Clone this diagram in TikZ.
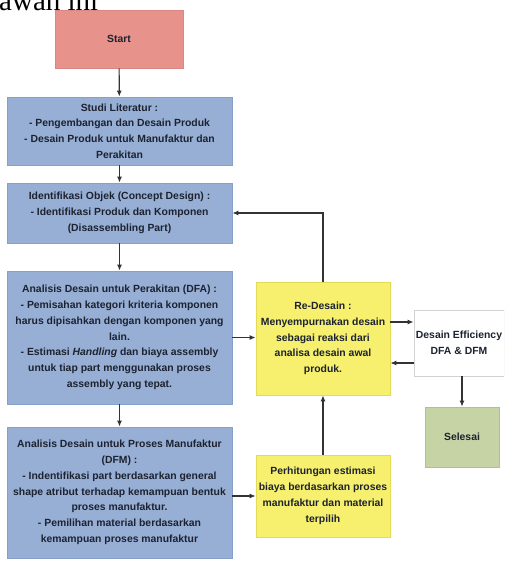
\documentclass[tikz,border=0pt]{standalone}
\usepackage{fontspec}
\setmainfont{Liberation Sans}
\newfontfamily\seriffont{Liberation Serif}
\usetikzlibrary{arrows.meta,calc}
\definecolor{startc}{HTML}{E8928C}
\definecolor{startb}{HTML}{D98780}
\definecolor{bluec}{HTML}{97AFD5}
\definecolor{blueb}{HTML}{85A0CB}
\definecolor{yelc}{HTML}{F6F06E}
\definecolor{yelb}{HTML}{E3DB55}
\definecolor{grnc}{HTML}{C5D3A5}
\definecolor{grnb}{HTML}{B0C08E}
\definecolor{effb}{HTML}{D2D2D2}
\definecolor{txt}{HTML}{1C2230}
\definecolor{linec}{HTML}{333333}
\begin{document}
\begin{tikzpicture}[x=1pt,y=-1pt,
  box/.style={draw, line width=0.8pt, align=center, inner sep=2pt,
    font=\fontsize{10.4}{15.8}\selectfont\bfseries, text=txt},
  bluebox/.style={box, fill=bluec, draw=blueb, minimum width=225pt},
  yelbox/.style={box, fill=yelc, draw=yelb, minimum width=134pt},
  arr/.style={draw=linec, line width=1.1pt, -{Latex[length=6pt,width=5pt]}}]
\useasboundingbox (0,0) rectangle (504,561);
\clip (0,0) rectangle (504,561);
\fill[white] (0,0) rectangle (504,561);

\node[font=\fontsize{29}{29}\selectfont\seriffont, anchor=base west, inner sep=0pt] (toptext) at (-1,11) {awah ini};

\node[box, fill=startc, draw=startb, minimum width=128pt, minimum height=58pt] (start) at (119,39) {Start};

\node[bluebox, minimum height=68pt] (studi) at (119.5,131)
 {Studi Literatur :\\- Pengembangan dan Desain Produk\\- Desain Produk untuk Manufaktur dan\\Perakitan};

\node[bluebox, minimum height=60pt] (ident) at (119.5,213)
 {Identifikasi Objek (Concept Design) :\\- Identifikasi Produk dan Komponen\\(Disassembling Part)};

\node[bluebox, minimum height=133pt] (dfa) at (119.5,337.5)
 {Analisis Desain untuk Perakitan (DFA) :\\- Pemisahan kategori kriteria komponen\\harus dipisahkan dengan komponen yang\\lain.\\- Estimasi \textit{Handling} dan biaya assembly\\untuk tiap part menggunakan proses\\assembly yang tepat.};

\node[bluebox, minimum height=131pt] (dfm) at (119.5,492.5)
 {Analisis Desain untuk Proses Manufaktur\\(DFM) :\\- Indentifikasi part berdasarkan general\\shape atribut terhadap kemampuan bentuk\\proses manufaktur.\\- Pemilihan material berdasarkan\\kemampuan proses manufaktur};

\node[yelbox, minimum height=113pt] (redesain) at (323,338.5)
 {Re-Desain :\\Menyempurnakan desain\\sebagai reaksi dari\\analisa desain awal\\produk.};

\node[yelbox, minimum height=82pt] (perhit) at (323,496)
 {Perhitungan estimasi\\biaya berdasarkan proses\\manufaktur dan material\\terpilih};

\node[box, fill=white, draw=effb, minimum width=88pt, minimum height=66pt] (eff) at (459,343)
 {Desain Efficiency\\DFA \& DFM};

\node[box, fill=grnc, draw=grnb, minimum width=74pt, minimum height=60pt] (selesai) at (462,437) {Selesai};

\draw[arr] (start) -- (studi);
\draw[arr] (studi) -- (ident);
\draw[arr] (ident) -- (dfa);
\draw[arr] (dfa) -- (dfm);
\draw[arr] (dfa.east) -- (dfa.east -| redesain.west);
\draw[arr] (perhit.west -| dfm.east) -- (perhit.west);
\draw[arr] (perhit) -- (redesain);
\draw[arr] (redesain.north) |- (ident.east);
\coordinate (e1) at ($(eff.west)+(0,-21)$);
\coordinate (e2) at ($(eff.west)+(0,20)$);
\draw[arr] (e1 -| redesain.east) -- (e1);
\draw[arr] (e2) -- (e2 -| redesain.east);
\draw[arr] (selesai.north |- eff.south) -- (selesai.north);
\end{tikzpicture}
\end{document}
